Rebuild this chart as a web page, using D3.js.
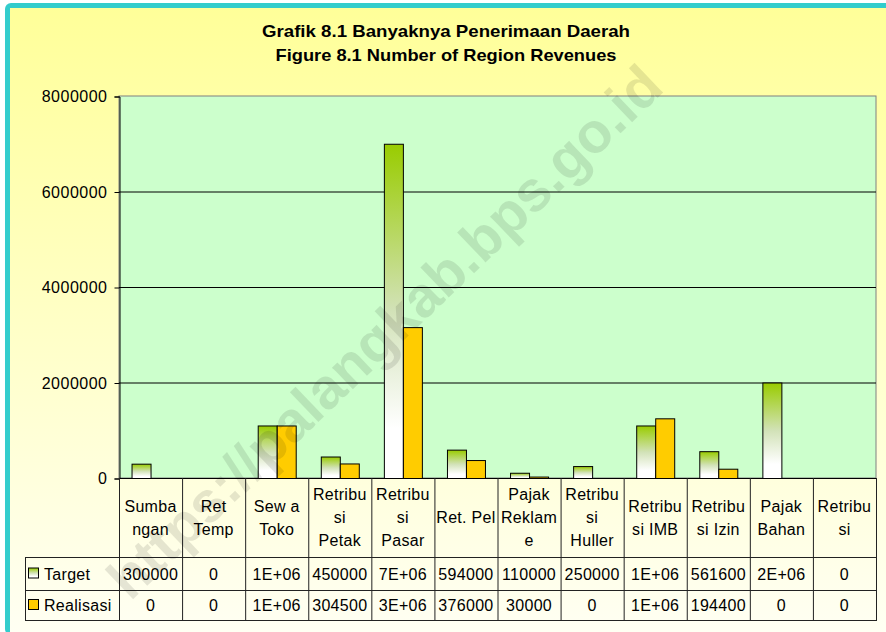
<!DOCTYPE html>
<html>
<head>
<meta charset="utf-8">
<script src="https://cdn.jsdelivr.net/npm/d3@7"></script>
<style>
  body { margin: 0; background: #fff; }
  text { font-family: "Liberation Sans", Arial, sans-serif; }
</style>
</head>
<body>
<div id="chart"></div>
<script>
// categories (column headers, already wrapped as in the picture)
const categories = [
  ["Sumba", "ngan"], ["Ret", "Temp"], ["Sew a", "Toko"], ["Retribu", "si", "Petak"],
  ["Retribu", "si", "Pasar"], ["Ret. Pel"], ["Pajak", "Reklam", "e"], ["Retribu", "si", "Huller"],
  ["Retribu", "si IMB"], ["Retribu", "si Izin"], ["Pajak", "Bahan"], ["Retribu", "si"]
];
const seriesNames = ["Target", "Realisasi"];
const target    = [300000, 0, 1100000, 450000, 7000000, 594000, 110000, 250000, 1100000, 561600, 2000000, 0];
const realisasi = [0, 0, 1100000, 304500, 3160000, 376000, 30000, 0, 1250000, 194400, 0, 0];
const yTicks = [0, 2000000, 4000000, 6000000, 8000000];

const W = 886, H = 632;
const plotL = 119, plotR = 876, plotT = 96, plotB = 478;
const fs = 16, ls = 0.3;

const svg = d3.select("#chart").append("svg")
  .attr("width", W).attr("height", H);

const defs = svg.append("defs");
const bg = defs.append("linearGradient").attr("id", "bg").attr("x1", 0).attr("y1", 0).attr("x2", 0).attr("y2", 1);
bg.append("stop").attr("offset", "0%").attr("stop-color", "#ffff99");
bg.append("stop").attr("offset", "100%").attr("stop-color", "#fffff4");
const gr = defs.append("linearGradient").attr("id", "green").attr("x1", 0).attr("y1", 0).attr("x2", 0).attr("y2", 1);
gr.append("stop").attr("offset", "0%").attr("stop-color", "#99cc00");
gr.append("stop").attr("offset", "50%").attr("stop-color", "#d2e2b8");
gr.append("stop").attr("offset", "85%").attr("stop-color", "#ffffff");
gr.append("stop").attr("offset", "100%").attr("stop-color", "#ffffff");

// frame
svg.append("rect").attr("x", 5).attr("y", 3).attr("width", W).attr("height", H)
  .attr("rx", 6).attr("fill", "#33cccc");
svg.append("rect").attr("x", 10).attr("y", 8).attr("width", W).attr("height", H)
  .attr("fill", "url(#bg)");

// title
svg.append("text").attr("x", 446).attr("y", 37).attr("text-anchor", "middle")
  .attr("font-size", 17).attr("font-weight", "bold")
  .attr("textLength", 368).attr("lengthAdjust", "spacingAndGlyphs")
  .text("Grafik 8.1 Banyaknya Penerimaan Daerah");
svg.append("text").attr("x", 446).attr("y", 61).attr("text-anchor", "middle")
  .attr("font-size", 17).attr("font-weight", "bold")
  .attr("textLength", 341).attr("lengthAdjust", "spacingAndGlyphs")
  .text("Figure 8.1 Number of Region Revenues");

// scales
const x = d3.scaleBand().domain(d3.range(categories.length)).range([plotL, plotR]);
const xs = d3.scaleBand().domain(seriesNames).range([0, x.bandwidth()])
  .paddingInner(0).paddingOuter(0.66);
const y = d3.scaleLinear().domain([0, 8000000]).range([plotB, plotT]);

// plot area
svg.append("rect").attr("x", plotL).attr("y", plotT)
  .attr("width", plotR - plotL).attr("height", plotB - plotT)
  .attr("fill", "#ccffcc").attr("stroke", "#808080");

// gridlines
svg.append("g").selectAll("line").data(yTicks.filter(d => d > 0 && d < 8000000)).join("line")
  .attr("x1", plotL).attr("x2", plotR)
  .attr("y1", d => y(d) + 0.5).attr("y2", d => y(d) + 0.5)
  .attr("stroke", "#000");

// y axis
const yAxis = svg.append("g").attr("transform", `translate(${plotL + 0.5},0.5)`)
  .call(d3.axisLeft(y).tickValues(yTicks).tickSize(5).tickPadding(7).tickFormat(d3.format("d")));
yAxis.select(".domain").attr("stroke", "#000");
yAxis.selectAll("text").attr("font-size", fs).attr("fill", "#000").attr("letter-spacing", 0.5)
  .style("font-family", "Liberation Sans, Arial, sans-serif");

// bars
const series = [target, realisasi];
const fills = ["url(#green)", "#ffcc00"];
series.forEach((vals, si) => {
  svg.append("g").selectAll("rect").data(vals).join("rect")
    .attr("x", (d, i) => x(i) + xs(seriesNames[si]) + 0.5)
    .attr("y", d => y(d) + 0.5)
    .attr("width", xs.bandwidth())
    .attr("height", d => Math.max(0, y(0) - y(d)))
    .attr("fill", fills[si])
    .attr("stroke", "#000")
    .attr("display", d => d > 0 ? null : "none");
});

// baseline
svg.append("line").attr("x1", plotL).attr("x2", plotR)
  .attr("y1", plotB + 0.5).attr("y2", plotB + 0.5).attr("stroke", "#000");

// data table
const rowTop = [plotB, 557, 590, 620];
const legX = 25;
const tbl = svg.append("g").attr("stroke", "#222").attr("stroke-width", 1);
x.domain().forEach(i => {
  tbl.append("line").attr("x1", x(i) + 0.5).attr("x2", x(i) + 0.5)
    .attr("y1", plotB).attr("y2", rowTop[3]);
});
tbl.append("line").attr("x1", plotR + 0.5).attr("x2", plotR + 0.5)
  .attr("y1", plotB).attr("y2", rowTop[3]);
tbl.append("line").attr("x1", legX + 0.5).attr("x2", legX + 0.5)
  .attr("y1", rowTop[1]).attr("y2", rowTop[3]);
[rowTop[1], rowTop[2], rowTop[3]].forEach(yy => {
  tbl.append("line").attr("x1", legX).attr("x2", plotR + 1)
    .attr("y1", yy + 0.5).attr("y2", yy + 0.5);
});

// header labels
const lineH = 23;
const headerMid = (rowTop[0] + rowTop[1]) / 2;
categories.forEach((lines, i) => {
  const t = svg.append("text").attr("text-anchor", "middle").attr("font-size", fs)
    .attr("letter-spacing", ls).attr("x", x(i) + x.bandwidth() / 2);
  lines.forEach((ln, k) => {
    t.append("tspan").attr("x", x(i) + x.bandwidth() / 2)
      .attr("y", headerMid + (k - (lines.length - 1) / 2) * lineH + 5.5)
      .text(ln);
  });
});

// excel "General" style for narrow cells
const fmt = v => v >= 1000000 ? d3.format(".0e")(v).replace("e+", "E+0") : String(v);

series.forEach((vals, si) => {
  const mid = (rowTop[si + 1] + rowTop[si + 2]) / 2;
  svg.append("rect").attr("x", 28.5).attr("y", mid - 5.5).attr("width", 10).attr("height", 10)
    .attr("fill", fills[si]).attr("stroke", "#000");
  svg.append("text").attr("x", 44).attr("y", mid + 6).attr("font-size", fs)
    .attr("letter-spacing", ls).text(seriesNames[si]);
  svg.append("g").selectAll("text").data(vals).join("text")
    .attr("x", (d, i) => x(i) + x.bandwidth() / 2)
    .attr("y", mid + 6)
    .attr("text-anchor", "middle").attr("font-size", fs).attr("letter-spacing", ls)
    .text(fmt);
});

// watermark
svg.append("text")
  .attr("transform", "translate(398,346) rotate(-43.7)")
  .attr("text-anchor", "middle").attr("font-size", 57).attr("font-weight", "bold")
  .attr("fill", "#000").attr("fill-opacity", 0.1)
  .text("https://palangkab.bps.go.id");
</script>
</body>
</html>
